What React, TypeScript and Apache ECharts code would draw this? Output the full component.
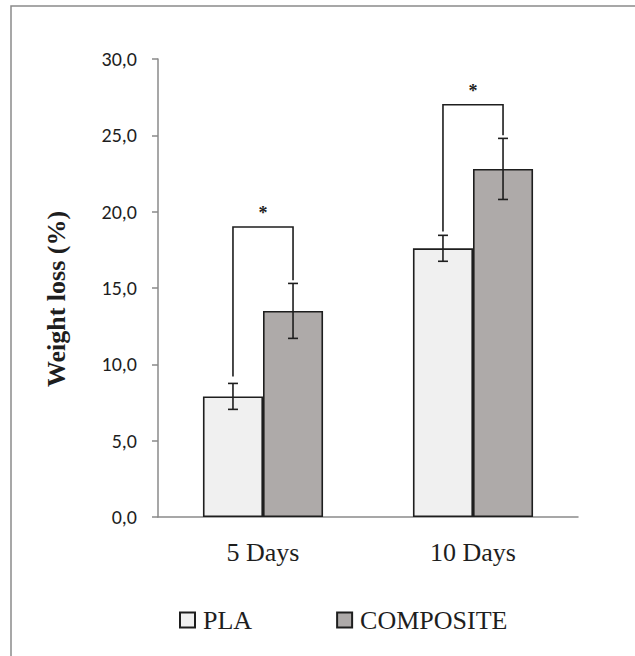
import React, { useEffect, useRef } from "react";
import * as echarts from "echarts";

const categories = ["5 Days", "10 Days"];
const seriesNames = ["PLA", "COMPOSITE"];
const plaValues = [7.9, 17.6];
const compositeValues = [13.5, 22.8];
const plaErrors = [0.85, 0.85];
const compositeErrors = [1.8, 2.0];
const bracketTops = [19.0, 27.0];
const bracketLeftEnds = [9.2, 18.7];
const bracketRightEnds = [15.5, 25.0];
const significance = ["*", "*"];
const yTicks = { min: 0, max: 30, interval: 5 };
const yAxisTitle = "Weight loss (%)";

const BAR_FRAC = 0.286;
const SERIF = "'Palatino Linotype', 'Book Antiqua', Palatino, 'Liberation Serif', serif";
const SANS = "Calibri, Carlito, 'Liberation Sans', Arial, sans-serif";
const INK = "#1e1e1e";

export default function App() {
  const ref = useRef<HTMLDivElement>(null);
  useEffect(() => {
    if (!ref.current) return;
    const chart = echarts.init(ref.current, undefined, { renderer: "svg" });

    const errRender = (sIdx: number) => (params: any, api: any) => {
      const i = api.value(0);
      const lo = api.coord([i, api.value(1)]);
      const hi = api.coord([i, api.value(2)]);
      const band = api.size([1, 0])[0];
      const bw = band * BAR_FRAC;
      const x = lo[0] + (sIdx - 0.5) * bw;
      const cap = 5;
      const st = { stroke: INK, lineWidth: 1.6 };
      return {
        type: "group",
        children: [
          { type: "line", shape: { x1: x, y1: hi[1], x2: x, y2: lo[1] }, style: st },
          { type: "line", shape: { x1: x - cap, y1: hi[1], x2: x + cap, y2: hi[1] }, style: st },
          { type: "line", shape: { x1: x - cap, y1: lo[1], x2: x + cap, y2: lo[1] }, style: st },
        ],
      };
    };

    const bracketRender = (params: any, api: any) => {
      const i = api.value(0);
      const top = api.coord([i, api.value(1)]);
      const l = api.coord([i, api.value(2)]);
      const r = api.coord([i, api.value(3)]);
      const band = api.size([1, 0])[0];
      const bw = band * BAR_FRAC;
      const xl = top[0] - 0.5 * bw;
      const xr = top[0] + 0.5 * bw;
      return {
        type: "group",
        children: [
          {
            type: "polyline",
            shape: { points: [[xl, l[1]], [xl, top[1]], [xr, top[1]], [xr, r[1]]] },
            style: { stroke: INK, lineWidth: 1.6, fill: "none" },
          },
          {
            type: "text",
            x: top[0],
            y: top[1] - 5,
            style: {
              text: significance[i],
              fill: INK,
              font: `bold 18px ${SERIF}`,
              align: "center",
              verticalAlign: "bottom",
            },
          },
        ],
      };
    };

    chart.setOption({
      animation: false,
      backgroundColor: "#ffffff",
      graphic: [
        {
          type: "rect",
          shape: { x: 11, y: 6, width: 800, height: 800 },
          style: { fill: "none", stroke: "#8a8a8a", lineWidth: 1.5 },
          silent: true,
        },
        {
          type: "text",
          x: 56,
          y: 299,
          rotation: Math.PI / 2,
          style: {
            text: yAxisTitle,
            fill: INK,
            font: `bold 26px ${SERIF}`,
            align: "center",
            verticalAlign: "middle",
          },
        },
      ],
      grid: { left: 158, right: 57, top: 59, bottom: 139, containLabel: false },
      legend: {
        data: seriesNames,
        left: 174,
        top: 602,
        itemWidth: 15,
        itemHeight: 15,
        itemGap: 84,
        icon: "rect",
        textStyle: { fontFamily: SERIF, fontSize: 26, color: INK, padding: [0, 0, 0, 3] },
      },
      xAxis: {
        type: "category",
        data: categories,
        axisLine: { lineStyle: { color: "#8a8a8a", width: 1.5 } },
        axisTick: { show: false },
        axisLabel: { fontFamily: SERIF, fontSize: 26, color: INK, margin: 22 },
      },
      yAxis: {
        type: "value",
        min: yTicks.min,
        max: yTicks.max,
        interval: yTicks.interval,
        axisLine: { show: true, lineStyle: { color: "#8a8a8a", width: 1.5 } },
        axisTick: { show: true, length: 6, lineStyle: { color: "#8a8a8a", width: 1.5 } },
        splitLine: { show: false },
        axisLabel: {
          fontFamily: SANS,
          fontSize: 20,
          color: INK,
          margin: 21,
          formatter: (v: number) => v.toFixed(1).replace(".", ","),
        },
      },
      series: [
        {
          name: seriesNames[0],
          type: "bar",
          data: plaValues,
          barWidth: `${BAR_FRAC * 100}%`,
          barGap: "0%",
          itemStyle: { color: "#f0f0f0", borderColor: INK, borderWidth: 1.6 },
        },
        {
          name: seriesNames[1],
          type: "bar",
          data: compositeValues,
          barWidth: `${BAR_FRAC * 100}%`,
          barGap: "0%",
          itemStyle: { color: "#aeaaa9", borderColor: INK, borderWidth: 1.6 },
        },
        {
          type: "custom",
          renderItem: errRender(0),
          data: plaValues.map((v, i) => [i, v - plaErrors[i], v + plaErrors[i]]),
          z: 5,
        },
        {
          type: "custom",
          renderItem: errRender(1),
          data: compositeValues.map((v, i) => [i, v - compositeErrors[i], v + compositeErrors[i]]),
          z: 5,
        },
        {
          type: "custom",
          renderItem: bracketRender,
          data: categories.map((_, i) => [i, bracketTops[i], bracketLeftEnds[i], bracketRightEnds[i]]),
          z: 5,
        },
      ],
    });
    return () => chart.dispose();
  }, []);
  return (
    <div
      ref={ref}
      style={{ position: "fixed", left: 0, top: 0, width: 635, height: 656, background: "#fff" }}
    />
  );
}
